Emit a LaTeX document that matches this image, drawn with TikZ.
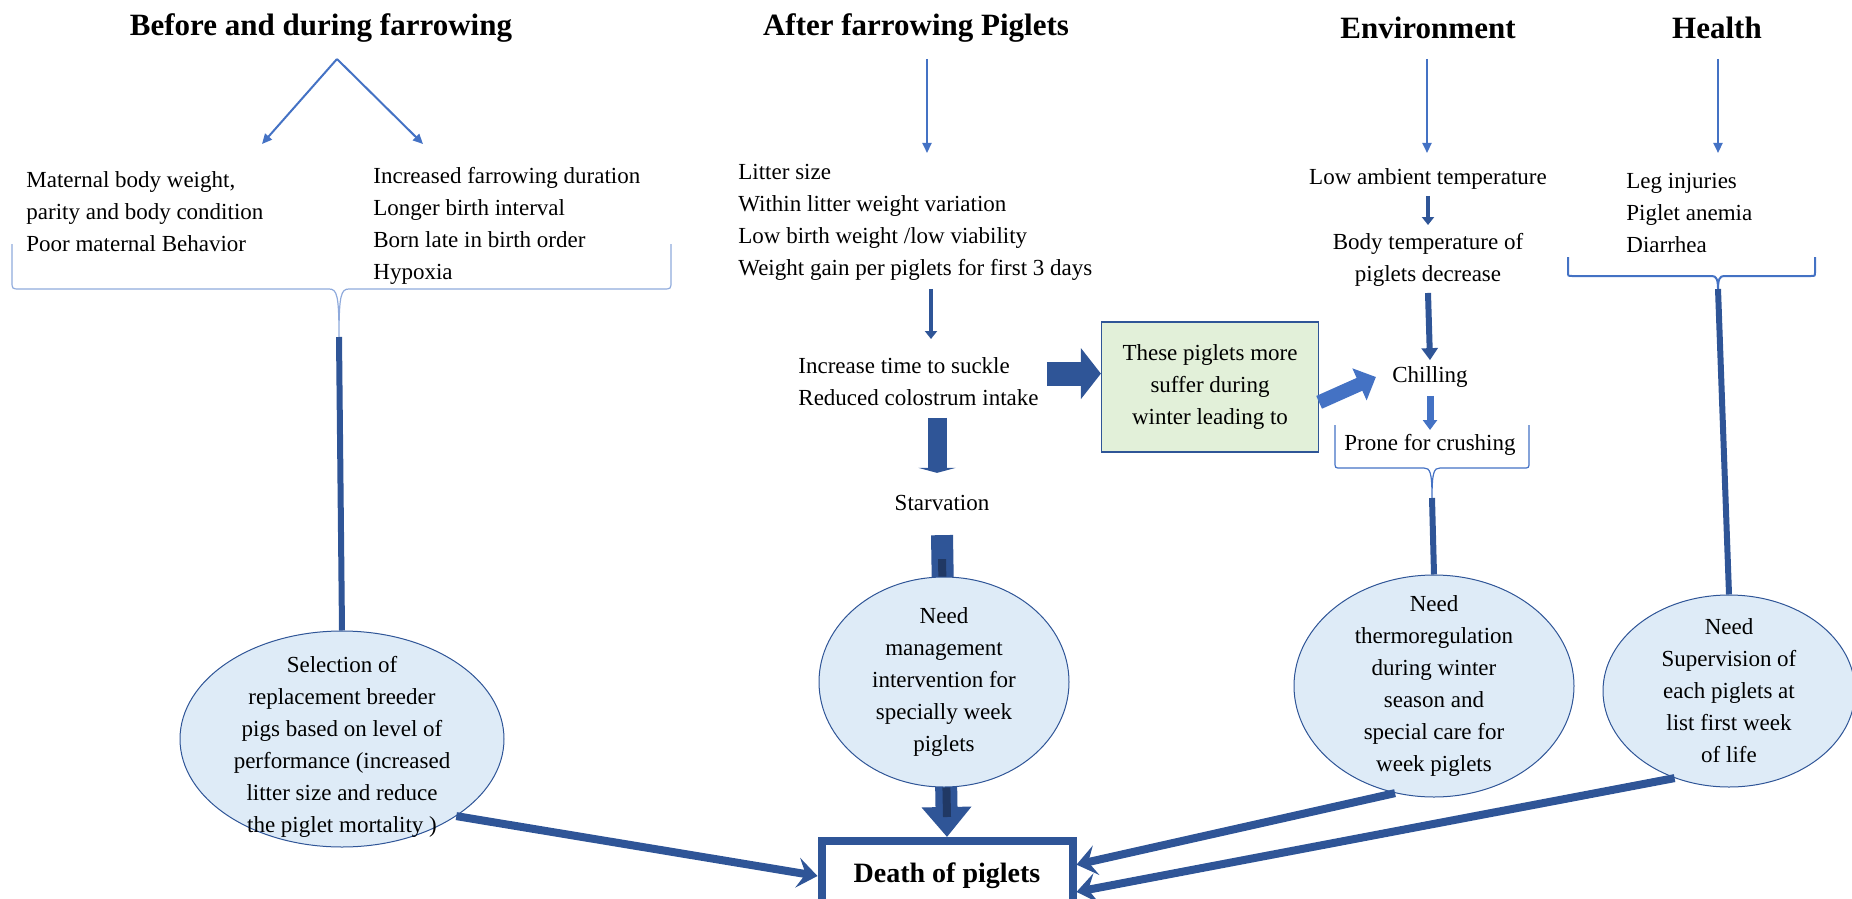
\documentclass[tikz,border=0pt]{standalone}
\usepackage{fontspec}
\setmainfont{Liberation Serif}
\usetikzlibrary{arrows.meta,shapes.geometric}
\definecolor{bleu}{HTML}{4472C4}
\definecolor{fonce}{HTML}{2F5597}
\definecolor{nuit}{HTML}{203864}
\definecolor{ciel}{HTML}{DEEBF7}
\definecolor{pale}{HTML}{8FAADC}
\definecolor{vert}{HTML}{E2F0D9}

\begin{document}
\begin{tikzpicture}[x=0.5pt, y=-0.5pt,
            titre/.style={font=\fontsize{15.5}{18}\selectfont\bfseries, inner sep=0pt},
            texte/.style={font=\fontsize{11.5}{16}\selectfont, align=left, inner sep=0pt},
            centre/.style={font=\fontsize{11.5}{16}\selectfont, align=center, inner sep=0pt},
            bulle/.style={ellipse, draw=fonce, fill=ciel, line width=0.5pt, inner xsep=0pt, inner ysep=-20pt,
                font=\fontsize{11.5}{16}\selectfont, align=center},
            fin/.style={draw=bleu, line width=1pt, -{Triangle[length=5pt,width=4.5pt]}},
            moyen/.style={draw=fonce, line width=2pt, -{Triangle[length=4pt,width=6pt]}},
            epais/.style={draw=fonce, line width=3pt},
            lien/.style={draw=fonce, line width=4pt, -{Stealth[length=10pt,width=15pt,inset=4pt]}},
            accol/.style={draw=pale, line width=0.6pt},
        ]
        \useasboundingbox (0,0) rectangle (1852,899);
        % titres
        \node[titre] (t1) at (321,28) {Before and during farrowing};
        \node[titre] (t2) at (916,28) {After farrowing Piglets};
        \node[titre] (t3) at (1428,28) {Environment};
        \node[titre] (t4) at (1717,28) {Health};

        % avant et pendant
        \coordinate (sommet) at (337,59);
        \coordinate (gauche) at (262,144);
        \coordinate (droite) at (423,144);
        \draw[fin] (sommet) -- (gauche);
        \draw[fin] (sommet) -- (droite);
        \node[texte, anchor=north west] (mere) at (26,171) {Maternal body weight,\\ parity and body condition\\ Poor maternal Behavior};
        \node[texte, anchor=north west] (serie) at (373,167) {Increased farrowing duration\\ Longer birth interval\\ Born late in birth order\\ Hypoxia};
        \draw[accol] (12,244) -- (12,281) .. controls (12,289) .. (20,289) -- (329,289)
            .. controls (337,289) and (339,295) .. (339,337)
            .. controls (339,295) and (341,289) .. (349,289) -- (663,289)
            .. controls (671,289) .. (671,281) -- (671,244);
        \coordinate (pointe1) at (339,337);
        \node[bulle, minimum width=162pt, minimum height=108pt] (selection) at (342,739)
            {\rule{0pt}{16pt}Selection of\\ replacement breeder\\ pigs based on level of\\ performance (increased\\ litter size and reduce\\ the piglet mortality )};
        \draw[epais] (pointe1) -- (selection.north);

        % mort
        \node[draw=fonce, line width=4pt, minimum width=125.5pt, minimum height=35pt,
            font=\fontsize{14}{16}\selectfont\bfseries] (mort) at (947,876) {Death of piglets};

        % apres mise bas
        \coordinate (haut2) at (927,59);
        \coordinate (bas2) at (927,153);
        \draw[fin] (haut2) -- (bas2);
        \node[texte, anchor=north west] (portee) at (738,164) {Litter size\\ Within litter weight variation\\ Low birth weight /low viability\\ Weight gain per piglets for first 3 days};
        \node[texte, anchor=north west] (tetee) at (798,357) {Increase time to suckle\\ Reduced colostrum intake};
        \draw[moyen] (portee.south -| 931,0) ++(0,8) -- (931,339);
        \node[centre] (famine) at (942,503) {Starvation};
        \draw[draw=fonce, line width=9.5pt, -{Triangle[length=2.5pt,width=18.5pt]}]
            (tetee.south -| 937,0) ++(0,12) -- ([yshift=11pt]famine.north -| 937,0);
        \draw[draw=fonce, line width=11pt, -{Triangle[length=15pt,width=24pt]}]
            ([yshift=-12pt]famine.south) -- (mort.north);
        \draw[draw=nuit, line width=4pt] ([yshift=-24pt]famine.south) -- ([yshift=10pt]mort.north);
        \node[bulle, minimum width=125pt, minimum height=105pt] (gestion) at (944,682)
            {Need\\ management\\ intervention for\\ specially week\\ piglets};
        \node[draw=fonce, fill=vert, line width=0.6pt, minimum width=108.5pt, minimum height=65pt, centre] (hiver) at (1210,387)
            {These piglets more\\ suffer during\\ winter leading to};
        \draw[draw=fonce, line width=12pt, -{Triangle[length=10pt,width=25pt]}, shorten <=4pt] (hiver.173 -| tetee.east) -- (hiver.173);

        % environnement
        \coordinate (haut3) at (1427,59);
        \coordinate (bas3) at (1427,153);
        \draw[fin] (haut3) -- (bas3);
        \node[centre] (froid) at (1428,179) {Low ambient temperature};
        \node[centre] (corps) at (1428,260) {Body temperature of\\ piglets decrease};
        \node[centre] (frisson) at (1430,377) {Chilling};
        \node[centre] (ecrase) at (1430,445) {Prone for crushing};
        \draw[moyen] ([yshift=-3pt]froid.south) -- ([yshift=4pt]corps.north);
        \draw[draw=fonce, line width=3pt, -{Triangle[length=6pt,width=8pt]}] ([yshift=-3pt]corps.south) -- ([yshift=3pt]frisson.north);
        \draw[draw=bleu, line width=3.5pt, -{Triangle[length=5pt,width=7pt]}] ([yshift=-4pt]frisson.south) -- ([yshift=2pt]ecrase.north);
        \draw[draw=bleu, line width=7pt, -{Triangle[length=9pt,width=17pt]}] (hiver.-8) -- ([xshift=-8pt]frisson.west);
        \draw[accol, draw=bleu] (1335,425) -- (1335,462) .. controls (1335,468) .. (1341,468) -- (1424,468)
            .. controls (1430,468) and (1432,472) .. (1432,498)
            .. controls (1432,472) and (1434,468) .. (1440,468) -- (1523,468)
            .. controls (1529,468) .. (1529,462) -- (1529,425);
        \coordinate (pointe3) at (1432,498);
        \node[bulle, minimum width=140pt, minimum height=111pt] (therm) at (1434,686)
            {Need\\ thermoregulation\\ during winter\\ season and\\ special care for\\ week piglets};
        \draw[epais] (pointe3) -- (therm.north);

        % sante
        \coordinate (haut4) at (1718,59);
        \coordinate (bas4) at (1718,153);
        \draw[fin] (haut4) -- (bas4);
        \node[texte, anchor=north west] (sante) at (1626,173) {Leg injuries\\ Piglet anemia\\ Diarrhea};
        \draw[accol, draw=bleu, line width=1pt] (1568,257) -- (1568,272) .. controls (1568,276) .. (1572,276) -- (1712,276)
            .. controls (1716,276) and (1718,279) .. (1718,289)
            .. controls (1718,279) and (1720,276) .. (1724,276) -- (1811,276)
            .. controls (1815,276) .. (1815,272) -- (1815,257);
        \coordinate (pointe4) at (1718,289);
        \node[bulle, minimum width=126pt, minimum height=96pt] (surv) at (1729,691)
            {Need\\ Supervision of\\ each piglets at\\ list first week\\ of life};
        \draw[epais] (pointe4) -- (surv.north);

        % vers la mort
        \draw[lien] (selection.-34) -- (mort.west);
        \draw[lien] (therm.-110) -- (mort.5);
        \draw[lien] (surv.-122) -- (mort.-7);
    \end{tikzpicture}
\end{document}
